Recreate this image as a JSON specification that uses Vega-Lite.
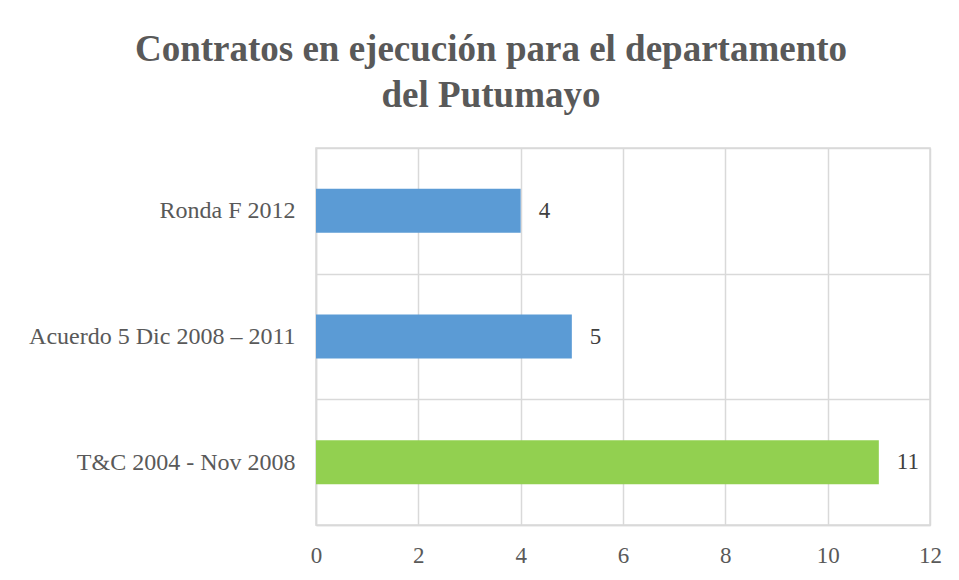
{
  "$schema": "https://vega.github.io/schema/vega-lite/v6.json",
  "width": 614,
  "height": 377,
  "autosize": {"type": "none"},
  "padding": {"left": 316, "top": 148, "right": 29, "bottom": 55},
  "background": "white",
  "title": {
    "text": ["Contratos en ejecución para el departamento", "del Putumayo"],
    "font": "Liberation Serif",
    "fontSize": 37,
    "fontWeight": "bold",
    "color": "#595959",
    "anchor": "middle",
    "frame": "group",
    "dx": -132,
    "lineHeight": 46,
    "offset": 21
  },
  "config": {
    "view": {"stroke": "#d9d9d9", "strokeWidth": 1.5}
  },
  "data": {
    "values": [
      {"categoria": "Ronda F 2012", "contratos": 4},
      {"categoria": "Acuerdo 5 Dic 2008 – 2011", "contratos": 5},
      {"categoria": "T&C 2004 - Nov 2008", "contratos": 11}
    ]
  },
  "encoding": {
    "y": {
      "field": "categoria",
      "type": "nominal",
      "sort": ["Ronda F 2012", "Acuerdo 5 Dic 2008 – 2011", "T&C 2004 - Nov 2008"],
      "scale": {"paddingInner": 0, "paddingOuter": 0},
      "axis": {
        "title": null,
        "ticks": false,
        "domain": true,
        "domainColor": "#d9d9d9",
        "domainWidth": 1.5,
        "grid": true,
        "gridColor": "#d9d9d9",
        "gridWidth": 1.5,
        "tickBand": "extent",
        "labelFont": "Liberation Serif",
        "labelFontSize": 24,
        "labelColor": "#595959",
        "labelPadding": 21,
        "labelLimit": 400
      }
    },
    "x": {
      "field": "contratos",
      "type": "quantitative",
      "scale": {"domain": [0, 12], "nice": false},
      "axis": {
        "title": null,
        "values": [0, 2, 4, 6, 8, 10, 12],
        "ticks": false,
        "domain": true,
        "domainColor": "#d9d9d9",
        "domainWidth": 1.5,
        "grid": true,
        "gridColor": "#d9d9d9",
        "gridWidth": 1.5,
        "labelFlush": false,
        "labelFont": "Liberation Serif",
        "labelFontSize": 23,
        "labelColor": "#595959",
        "labelPadding": 19
      }
    }
  },
  "layer": [
    {
      "mark": {"type": "bar", "height": {"band": 0.35}},
      "encoding": {
        "color": {
          "field": "categoria",
          "type": "nominal",
          "scale": {
            "domain": ["Ronda F 2012", "Acuerdo 5 Dic 2008 – 2011", "T&C 2004 - Nov 2008"],
            "range": ["#5b9bd5", "#5b9bd5", "#92d050"]
          },
          "legend": null
        }
      }
    },
    {
      "mark": {
        "type": "text",
        "align": "left",
        "baseline": "middle",
        "dx": 18,
        "font": "Liberation Serif",
        "fontSize": 23,
        "color": "#404040"
      },
      "encoding": {
        "text": {"field": "contratos", "type": "quantitative"}
      }
    }
  ]
}
